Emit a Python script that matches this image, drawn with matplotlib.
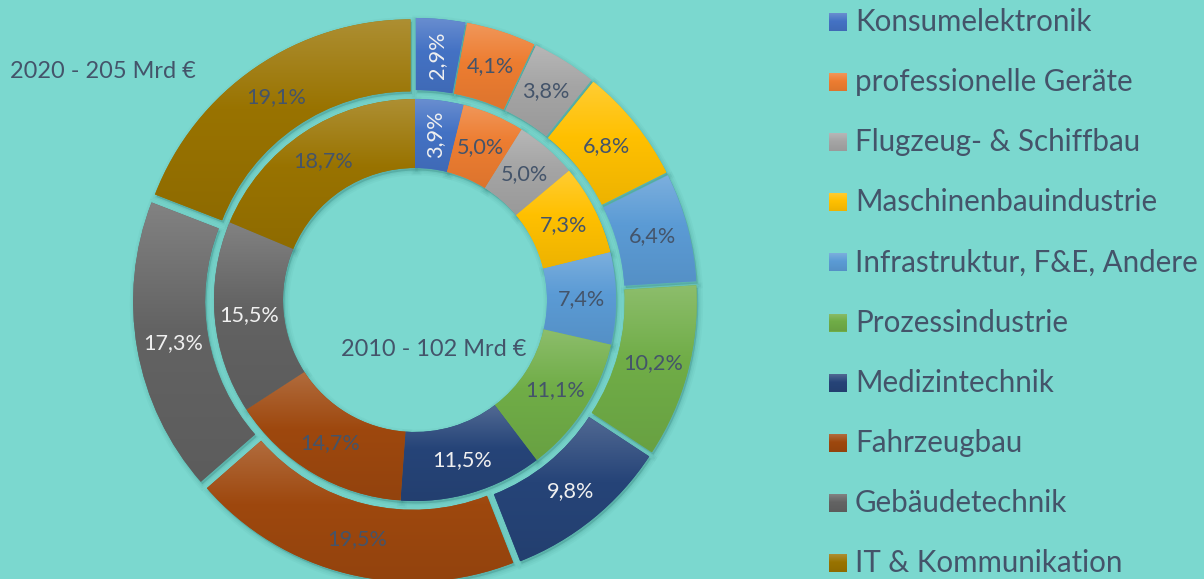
import matplotlib
matplotlib.use('Agg')
import matplotlib.pyplot as plt
import numpy as np
from matplotlib.colors import to_rgb, LinearSegmentedColormap
from matplotlib.patches import Rectangle, Wedge

categories = ["Konsumelektronik", "professionelle Geräte", "Flugzeug- & Schiffbau",
              "Maschinenbauindustrie", "Infrastruktur, F&E, Andere", "Prozessindustrie",
              "Medizintechnik", "Fahrzeugbau", "Gebäudetechnik", "IT & Kommunikation"]
share_2020 = [2.9, 4.1, 3.8, 6.8, 6.4, 10.2, 9.8, 19.5, 17.3, 19.1]
share_2010 = [3.9, 5.0, 5.0, 7.3, 7.4, 11.1, 11.5, 14.7, 15.5, 18.7]
colors = ["#4472C4", "#ED7D31", "#A5A5A5", "#FFC000", "#5B9BD5", "#70AD47",
          "#264478", "#9E480E", "#636363", "#997300"]
label_light = [True, False, False, False, False, False, True, False, True, False]
label_rotated = [True, False, False, False, False, False, False, False, False, False]
title_2020 = "2020 - 205 Mrd €"
title_2010 = "2010 - 102 Mrd €"

W, H = 1204, 579
BG = "#7BD8CF"
TXT = "#44546A"
LIGHT = "#F0F0F0"
SHADOW = "#2F7F78"
FONT = "Lato"

fig = plt.figure(figsize=(W / 100, H / 100), dpi=100, facecolor=BG)
ax = fig.add_axes([0, 0, 1, 1])
ax.set_facecolor(BG)
renderer = fig.canvas.get_renderer()


def fit(text, target, family=FONT):
    t = fig.text(0, 0, text, fontsize=10, family=family)
    w = t.get_window_extent(renderer).width
    t.remove()
    return 10 * target / w


def shade(c, f):
    r = np.array(to_rgb(c))
    return tuple(r + (1 - r) * f) if f >= 0 else tuple(r * (1 + f))


grad = np.linspace(0, 1, 256).reshape(-1, 1)


def gradient_fill(patch, color, zorder):
    ext = patch.get_patch_transform().transform_path(patch.get_path()).get_extents()
    cmap = LinearSegmentedColormap.from_list(
        "g", [(0.0, shade(color, -0.07)), (0.55, shade(color, 0.0)), (1.0, shade(color, 0.2))])
    im = ax.imshow(grad, extent=(ext.x0, ext.x1, ext.y0, ext.y1), origin='lower',
                   cmap=cmap, aspect='auto', zorder=zorder, interpolation='bilinear')
    im.set_clip_path(patch)


def shadow(w):
    for lw, a in [(7, 0.05), (4.5, 0.07), (2, 0.09), (0, 0.12)]:
        s = Wedge((w.center[0] + 1.5, w.center[1] - 2.5), w.r, w.theta1, w.theta2,
                  width=w.width, facecolor=SHADOW, edgecolor=SHADOW, linewidth=lw,
                  alpha=a, zorder=0.5)
        ax.add_patch(s)


cx, cy = 415, H - 300
R_out, w_out = 274, 72
R_in, w_in = 201, 69
expl = 8

outer, _ = ax.pie(share_2020, radius=R_out, center=(cx, cy), startangle=90, counterclock=False,
                  explode=[expl] * len(share_2020), colors=colors,
                  wedgeprops=dict(width=w_out, linewidth=0))
inner, _ = ax.pie(share_2010, radius=R_in, center=(cx, cy), startangle=90, counterclock=False,
                  colors=colors, wedgeprops=dict(width=w_in, linewidth=0))

for wedges in (outer, inner):
    for w, c in zip(wedges, colors):
        shadow(w)
        gradient_fill(w, c, w.get_zorder() + 0.1)

lab_fs = fit("19,1%", 60)


def label(w, val, light, rotated):
    th = np.deg2rad((w.theta1 + w.theta2) / 2)
    r = w.r - w.width / 2
    x = w.center[0] + r * np.cos(th)
    y = w.center[1] + r * np.sin(th)
    ax.text(x, y, f"{val:.1f}%".replace('.', ','), ha='center', va='center',
            color=LIGHT if light else TXT, rotation=90 if rotated else 0,
            fontsize=lab_fs, family=FONT, zorder=10)


for wedges, vals in ((outer, share_2020), (inner, share_2010)):
    for w, v, lt, rt in zip(wedges, vals, label_light, label_rotated):
        label(w, v, lt, rt)

t_fs = fit(title_2020, 185)
ax.text(10, H - 72, title_2020, ha='left', va='center', color=TXT, fontsize=t_fs, family=FONT)
ax.text(434, H - 350, title_2010, ha='center', va='center', color=TXT, fontsize=t_fs, family=FONT)

leg_fs = fit("Infrastruktur, F&E, Andere", 342)
for i, (cat, c) in enumerate(zip(categories, colors)):
    yc = H - (22 + 60.1 * i)
    rect = Rectangle((829, yc - 9), 18, 18, facecolor=c, linewidth=0)
    ax.add_patch(rect)
    gradient_fill(rect, c, 3)
    ax.text(855, yc, cat, ha='left', va='center', color=TXT, fontsize=leg_fs, family=FONT)

ax.set_xlim(0, W)
ax.set_ylim(0, H)
ax.set_aspect('auto')
ax.axis('off')
fig.savefig('out.png', dpi=100, facecolor=BG)
